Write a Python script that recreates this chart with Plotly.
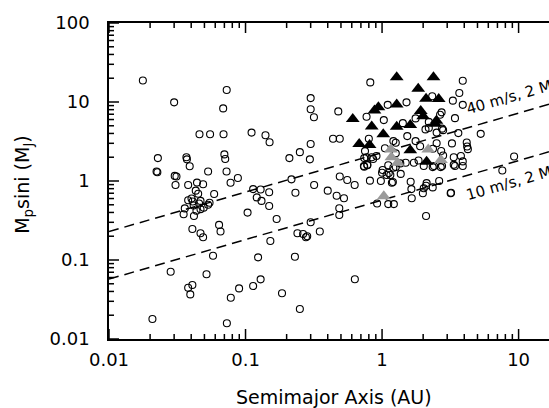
import math
import plotly.graph_objects as go

# ---------------- data ----------------
circle_a = [0.0177, 0.0208, 0.0228, 0.0223, 0.0226, 0.0283, 0.0300, 0.0303, 0.0312, 0.0307,
            0.0369, 0.0372, 0.0390, 0.0380, 0.0359, 0.0352, 0.0380, 0.0402, 0.0410, 0.0417,
            0.0419, 0.0437, 0.0457, 0.0468, 0.0468, 0.0494, 0.0532, 0.0545, 0.0432, 0.0450,
            0.0441, 0.0489, 0.0408, 0.0468, 0.0489, 0.0380, 0.0394, 0.0408, 0.0460, 0.0532,
            0.0550, 0.0518, 0.0578, 0.0589, 0.0640, 0.0656, 0.0686, 0.0690, 0.0700, 0.0710,
            0.0728, 0.0726, 0.0777, 0.0879, 0.0730, 0.0780, 0.0897,
            0.1035, 0.1107, 0.1137, 0.1208, 0.1309, 0.1290, 0.1236, 0.1137, 0.1290, 0.1400,
            0.1500, 0.1490, 0.1490, 0.1520, 0.1690, 0.1850, 0.2095, 0.2170, 0.2320, 0.2500,
            0.2300, 0.2400, 0.2640, 0.2770, 0.2830, 0.2500, 0.2960, 0.3000, 0.3000, 0.3170,
            0.3000, 0.3180, 0.3000, 0.3500, 0.4000, 0.4375, 0.4900, 0.4780, 0.4650, 0.5260,
            0.4900, 0.5560, 0.6300, 0.4860, 0.4860, 0.6320,
            0.82, 0.77, 0.80, 0.75, 0.77, 0.74, 0.78, 0.74, 0.84, 0.86,
            0.91, 0.815, 0.98, 1.08, 1.00, 1.01, 1.03, 1.05, 1.10, 1.11,
            1.12, 1.15, 1.18, 1.20, 1.21, 1.26, 1.26, 1.21, 1.26, 0.92,
            1.11, 1.22, 1.36, 1.37, 1.49, 1.53, 1.51, 1.42, 1.62, 1.64,
            1.65, 1.71, 1.76, 1.76, 1.85, 1.90, 2.02, 1.99, 2.02, 2.10,
            2.12, 2.08, 2.20, 2.20, 2.10, 2.33, 2.36, 2.40, 2.35, 2.51,
            2.51, 2.62, 2.66, 2.73, 2.71, 2.75, 2.75, 2.80, 2.80, 3.18,
            3.20, 3.25, 3.30, 3.42, 3.35, 3.35, 3.62, 3.68, 3.90, 3.90,
            3.78, 3.90, 3.42, 3.90, 4.17, 4.20, 4.25, 5.28, 7.60, 9.27,
            0.736, 0.78, 2.35, 2.69]
circle_m = [18.7, 0.0179, 1.95, 1.32, 1.29, 0.071, 9.9, 1.16, 1.14, 0.89,
            2.0, 1.88, 1.54, 0.89, 0.45, 0.38, 0.57, 0.60, 0.55, 0.49,
            0.36, 0.42, 0.52, 0.56, 0.44, 0.46, 0.50, 0.53, 0.755, 0.69,
            0.955, 0.91, 0.247, 0.218, 0.194, 0.0446, 0.0367, 0.0482, 3.9, 1.32,
            3.9, 0.066, 0.113, 0.685, 0.278, 0.229, 8.3, 3.9, 2.17, 1.9,
            14.2, 1.32, 0.95, 1.09, 0.0158, 0.0333, 0.0437,
            0.398, 4.1, 0.79, 0.62, 0.56, 0.78, 0.108, 0.0468, 0.0569, 3.8,
            3.1, 0.72, 0.483, 0.174, 0.331, 0.038, 1.95, 1.05, 0.71, 2.32,
            0.11, 0.218, 0.213, 0.194, 0.20, 0.024, 1.88, 11.2, 8.1, 6.4,
            2.94, 0.89, 0.30, 0.229, 0.755, 3.42, 3.42, 7.6, 0.65, 0.605,
            1.14, 1.03, 0.89, 0.452, 0.372, 0.057,
            17.7, 6.5, 3.43, 2.39, 2.0, 1.95, 1.6, 1.52, 2.0, 1.9,
            2.07, 1.01, 1.0, 1.19, 1.27, 1.38, 5.9, 2.6, 9.2, 1.58,
            1.26, 1.19, 0.95, 0.97, 3.2, 2.24, 3.05, 1.47, 1.50, 0.52,
            0.51, 0.51, 1.67, 1.23, 1.7, 3.7, 9.9, 5.4, 0.98, 0.79,
            0.605, 1.7, 3.2, 6.2, 1.82, 2.75, 1.55, 0.70, 0.81, 0.87,
            0.94, 4.5, 4.7, 5.6, 0.36, 11.8, 2.56, 1.55, 0.83, 4.1,
            3.0, 1.0, 6.9, 7.4, 2.4, 1.55, 4.6, 4.4, 2.1, 0.70,
            0.71, 2.99, 10.4, 6.25, 2.0, 1.6, 4.04, 13.0, 18.6, 9.2,
            2.07, 1.77, 1.55, 1.55, 3.07, 2.73, 2.53, 3.95, 1.36, 2.04,
            1.55, 1.58, 1.5, 1.5]

black_tri_a = [0.61, 0.68, 0.81, 0.84, 0.88, 0.94, 1.02, 1.28, 1.28, 1.28,
               1.61, 1.61, 1.84, 1.92, 2.00, 2.10, 2.12, 2.38, 2.60, 2.45, 2.50]
black_tri_m = [6.1, 2.95, 2.85, 4.9, 7.8, 8.6, 3.9, 9.3, 4.85, 20.5,
               5.1, 2.45, 14.7, 7.7, 6.6, 11.0, 1.75, 20.5, 10.9, 5.3, 5.8]

gray_tri_a = [1.03, 1.16, 1.17, 1.30, 2.18, 2.70]
gray_tri_m = [0.64, 2.5, 2.0, 1.7, 2.5, 1.85]

# detection-limit lines: M sini ∝ sqrt(a); value at a = 1 AU
limit_labels = ["40 m/s, 2 M<sub>☉</sub>", "10 m/s, 2 M<sub>☉</sub>"]
limit_mass_at_1au = [2.29, 0.573]
limit_a = [0.01, 16.7]

x_range_au = [0.01, 16.7]
y_range_mj = [0.01, 100]
xtick_vals = [0.01, 0.1, 1, 10]
xtick_text = ["0.01", "0.1", "1", "10"]
ytick_vals = [0.01, 0.1, 1, 10, 100]
ytick_text = ["0.01", "0.1", "1", "10", "100"]
minor_vals = [k * 10 ** e for e in range(-2, 2) for k in range(2, 10)]

# ---------------- figure ----------------
FONT = "DejaVu Sans"
W, H = 549, 408
M_L, M_R, M_T, M_B = 109, 0, 23, 69
PW, PH = W - M_L - M_R, H - M_T - M_B
MAJOR_LEN, MINOR_LEN = 10, 5

xr = [math.log10(v) for v in x_range_au]
yr = [math.log10(v) for v in y_range_mj]
x_per_px = (xr[1] - xr[0]) / PW   # decades per pixel
y_per_px = (yr[1] - yr[0]) / PH

fig = go.Figure()

for c in limit_mass_at_1au:
    fig.add_trace(go.Scatter(
        x=limit_a, y=[c * math.sqrt(a) for a in limit_a], mode="lines",
        line=dict(color="black", width=1.5, dash="10px,6px"),
        hoverinfo="skip", showlegend=False))

fig.add_trace(go.Scatter(
    x=circle_a, y=circle_m, mode="markers",
    marker=dict(symbol="circle-open", size=7, color="black", line=dict(width=1.1)),
    showlegend=False))

fig.add_trace(go.Scatter(
    x=gray_tri_a, y=gray_tri_m, mode="markers",
    marker=dict(symbol="triangle-up", size=12, color="#9a9a9a", line=dict(width=0)),
    showlegend=False))

fig.add_trace(go.Scatter(
    x=black_tri_a, y=black_tri_m, mode="markers",
    marker=dict(symbol="triangle-up", size=12, color="black", line=dict(width=0)),
    showlegend=False))

# inward tick marks drawn as line segments in data space
tx, ty = [], []
y_lo, y_hi = y_range_mj
x_lo = x_range_au[0]
for vals, ln in ((xtick_vals, MAJOR_LEN), (minor_vals, MINOR_LEN)):
    for v in vals:
        if x_range_au[0] <= v <= x_range_au[1]:
            tx += [v, v, None, v, v, None]
            ty += [y_lo, y_lo * 10 ** (ln * y_per_px), None,
                   y_hi, y_hi / 10 ** (ln * y_per_px), None]
for vals, ln in ((ytick_vals, MAJOR_LEN), (minor_vals, MINOR_LEN)):
    for v in vals:
        if y_range_mj[0] <= v <= y_range_mj[1]:
            tx += [x_lo, x_lo * 10 ** (ln * x_per_px), None]
            ty += [v, v, None]
fig.add_trace(go.Scatter(x=tx, y=ty, mode="lines", connectgaps=False,
                         line=dict(color="black", width=1.5),
                         hoverinfo="skip", showlegend=False, cliponaxis=False))

fig.update_xaxes(type="log", range=xr, tickmode="array", tickvals=xtick_vals,
                 ticktext=xtick_text, ticks="", showline=True, linecolor="black",
                 linewidth=1.6, mirror=True, showgrid=False, zeroline=False,
                 ticklabelstandoff=4,
                 tickfont=dict(family=FONT, size=18, color="black"))
fig.update_yaxes(type="log", range=yr, tickmode="array", tickvals=ytick_vals,
                 ticktext=ytick_text, ticks="", showline=True, linecolor="black",
                 linewidth=1.6, mirror=False, showgrid=False, zeroline=False,
                 ticklabelstandoff=14,
                 tickfont=dict(family=FONT, size=18, color="black"))

angle = -math.degrees(math.atan(0.5 * 78.9 / 136.4))
annotations = [
    dict(text=limit_labels[0], x=0.964, y=1.071, xref="x", yref="y",
         showarrow=False, textangle=angle, xanchor="center", yanchor="middle",
         font=dict(family=FONT, size=15, color="black")),
    dict(text=limit_labels[1], x=0.964, y=-0.023, xref="x", yref="y",
         showarrow=False, textangle=angle, xanchor="center", yanchor="middle",
         font=dict(family=FONT, size=15, color="black")),
    dict(text="Semimajor Axis (AU)", x=0.511, y=-0.1835, xref="paper", yref="paper",
         showarrow=False, xanchor="center", yanchor="middle",
         font=dict(family=FONT, size=19, color="black")),
    dict(text="M<sub>p</sub>sini (M<sub>J</sub>)", x=-0.194, y=0.49, xref="paper", yref="paper",
         showarrow=False, textangle=-90, xanchor="center", yanchor="middle",
         font=dict(family=FONT, size=19, color="black")),
]

fig.update_layout(
    width=W, height=H,
    margin=dict(l=M_L, r=M_R, t=M_T, b=M_B, pad=0),
    paper_bgcolor="white", plot_bgcolor="white",
    showlegend=False, annotations=annotations,
    font=dict(family=FONT, color="black"),
)

fig.write_html("out.html", config={"displayModeBar": False},
               post_script="document.body.style.margin='0';document.body.style.padding='0';")
